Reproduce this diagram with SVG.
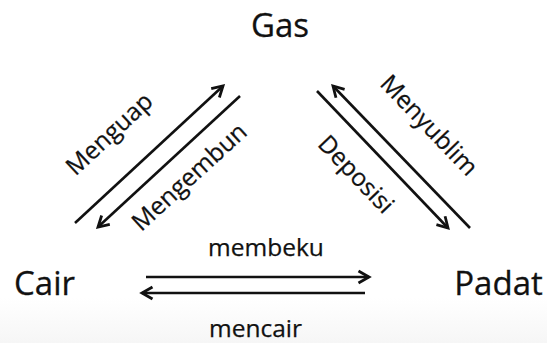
<svg xmlns="http://www.w3.org/2000/svg" width="547" height="343" viewBox="0 0 547 343">
  <style>
    .state { font-family: "Open Sans", "Noto Sans", sans-serif; font-size: 33px; fill: #111; stroke: #111; stroke-width: 0.3; }
    .label { font-family: "Open Sans", "Noto Sans", sans-serif; font-size: 24.5px; fill: #111; stroke: #111; stroke-width: 0.25; }
    .flow { fill: none; stroke: #111; stroke-width: 2.6; marker-end: url(#head); }
  </style>
  <defs>
    <marker id="head" markerUnits="userSpaceOnUse" markerWidth="20" markerHeight="20" refX="12" refY="8" orient="auto" overflow="visible">
      <path d="M1.5,2 L12,8 L1.5,14" fill="none" stroke="#111" stroke-width="2.8" stroke-linejoin="miter"/>
    </marker>
    <linearGradient id="floor" x1="0" y1="0" x2="0" y2="1">
      <stop offset="0" stop-color="#ffffff"/>
      <stop offset="1" stop-color="#f6f6f6"/>
    </linearGradient>
  </defs>

  <rect width="547" height="343" fill="#ffffff"/>
  <rect y="298" width="547" height="45" fill="url(#floor)"/>

  <!-- states of matter -->
  <g id="gas"><text class="state" x="280" y="37" text-anchor="middle">Gas</text></g>
  <g id="cair"><text class="state" x="44.5" y="295" text-anchor="middle">Cair</text></g>
  <g id="padat"><text class="state" x="498.5" y="295" text-anchor="middle">Padat</text></g>

  <!-- phase transitions -->
  <g id="connectors">
    <line class="flow" x1="75" y1="223" x2="223" y2="86"/>
    <line class="flow" x1="240" y1="96" x2="98" y2="227"/>
    <line class="flow" x1="470" y1="228" x2="333" y2="86"/>
    <line class="flow" x1="317" y1="91" x2="448" y2="228"/>
    <line class="flow" x1="146" y1="277" x2="369" y2="277"/>
    <line class="flow" x1="365" y1="293" x2="142" y2="293"/>
  </g>

  <g id="labels">
    <text class="label" text-anchor="middle" transform="translate(115,140) rotate(-43)">Menguap</text>
    <text class="label" text-anchor="middle" transform="translate(195,183) rotate(-42.5)">Mengembun</text>
    <text class="label" text-anchor="middle" transform="translate(350,180) rotate(46.3)">Deposisi</text>
    <text class="label" text-anchor="middle" transform="translate(423,131) rotate(46.2)">Menyublim</text>
    <text class="label" x="266" y="256" text-anchor="middle">membeku</text>
    <text class="label" x="255.5" y="337" text-anchor="middle">mencair</text>
  </g>
</svg>
